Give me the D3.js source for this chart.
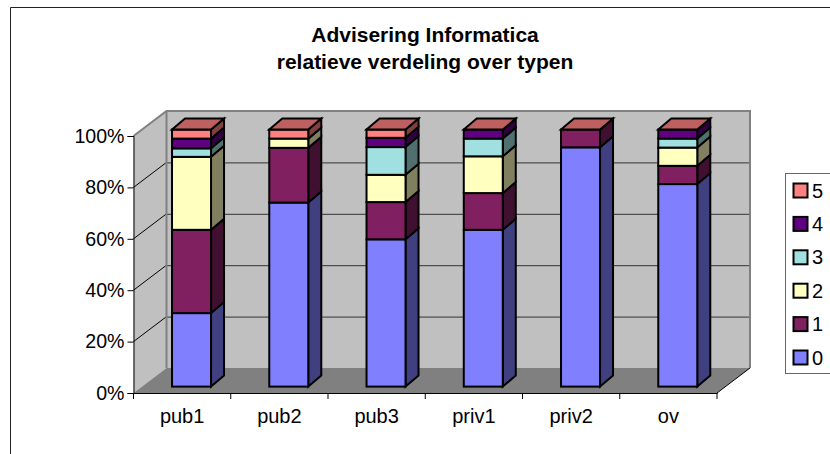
<!DOCTYPE html>
<html><head><meta charset="utf-8">
<style>html,body{margin:0;padding:0;background:#fff}svg{display:block}text{font-family:"Liberation Sans",Arial,sans-serif;fill:#000}</style>
<script src="https://cdn.jsdelivr.net/npm/d3@7"></script></head><body>
<script>
const categories = ["pub1","pub2","pub3","priv1","priv2","ov"];
const seriesNames = ["0","1","2","3","4","5"];
const s0 = [28.6,71.6,57.3,61.0,93.1,78.8];
const s1 = [32.4,21.3,14.5,14.3,6.9,7.1];
const s2 = [28.4,3.6,10.6,14.3,0,7.1];
const s3 = [3.3,0,10.8,6.9,0,3.5];
const s4 = [3.8,0,3.6,3.5,0,3.5];
const s5 = [3.5,3.5,3.2,0,0,0];
const allSeries = [s0,s1,s2,s3,s4,s5];
const colors = ["#8080ff","#802060","#ffffc0","#a0e0e0","#600080","#ff8080"];
const yTicks = [0,20,40,60,80,100];
const titleLines = ["Advisering Informatica","relatieve verdeling over typen"];

const W=830,H=454;
const svg=d3.select("body").append("svg").attr("width",W).attr("height",H);
const FS=20, YFS=19.6, TFS=21;
// frame
svg.append("path").attr("d","M10.5,454V7.5H830").attr("fill","none").attr("stroke","#222").attr("stroke-width",1);

const x0=133.5,x1=717,yB=393,yT=136,backX=33,backY=-25,depX=13,depY=-11;
const x=d3.scaleBand().domain(categories).range([x0,x1]);
const y=d3.scaleLinear().domain([0,100]).range([yB,yT]);

// walls
const g=svg.append("g");
g.append("path").attr("d",`M${x0},${yB}L${x0},${yT}L${x0+backX},${yT+backY}L${x0+backX},${yB+backY}Z`).attr("fill","#c0c0c0");
g.append("rect").attr("x",x0+backX).attr("y",yT+backY).attr("width",x1-x0).attr("height",yB-yT).attr("fill","#c0c0c0");
g.append("path").attr("d",`M${x0},${yB}L${x0+backX},${yB+backY}L${x1+backX},${yB+backY}L${x1},${yB}Z`).attr("fill","#808080");
// gridlines
yTicks.filter(t=>t>0&&t<100).forEach(t=>{
  g.append("line").attr("x1",x0+backX).attr("x2",x1+backX).attr("y1",y(t)+backY+.5).attr("y2",y(t)+backY+.5).attr("stroke","#333").attr("stroke-width",1);
  g.append("line").attr("x1",x0).attr("x2",x0+backX).attr("y1",y(t)).attr("y2",y(t)+backY).attr("stroke","#000").attr("stroke-width",1);
});
// wall edges
g.append("path").attr("d",`M${x0},${yT}L${x0+backX},${yT+backY}H${x1+backX}V${yB+backY}`).attr("fill","none").attr("stroke","#808080").attr("stroke-width",2);
g.append("line").attr("x1",x0+backX).attr("x2",x0+backX).attr("y1",yT+backY).attr("y2",yB+backY).attr("stroke","#808080").attr("stroke-width",2);
g.append("line").attr("x1",x1).attr("y1",yB).attr("x2",x1+backX).attr("y2",yB+backY).attr("stroke","#000").attr("stroke-width",1);

// bars
const stacked=d3.stack().keys(d3.range(6)).value((d,k)=>allSeries[k][d])(d3.range(6));
const barW=39, barShift=9.4, barLift=6.4;
const shade=(c,k)=>{const r=d3.rgb(c);return d3.rgb(r.r*k,r.g*k,r.b*k).formatHex();};
const barsG=svg.append("g").attr("stroke","#000").attr("stroke-width",2).attr("stroke-linejoin","miter");
categories.forEach((c,i)=>{
  const bx=x(c)+(x.bandwidth()-barW)/2+barShift;
  const Y=v=>y(v)-barLift;
  stacked.forEach((ser,k)=>{
    const ya=Y(ser[i][0]),yb=Y(ser[i][1]);
    barsG.append("path").attr("d",`M${bx+barW},${ya}L${bx+barW+depX},${ya+depY}L${bx+barW+depX},${yb+depY}L${bx+barW},${yb}Z`).attr("fill",shade(colors[k],.5));
    barsG.append("rect").attr("x",bx).attr("y",yb).attr("width",barW).attr("height",ya-yb).attr("fill",colors[k]);
    if(k===5){
      barsG.append("path").attr("d",`M${bx},${yb}L${bx+depX},${yb+depY}H${bx+barW+depX}L${bx+barW},${yb}Z`).attr("fill",shade(colors[k],.75));
    }
  });
});

// axes
const yAxis=d3.axisLeft(y).tickValues(yTicks).tickFormat(d=>d+"%").tickSize(6).tickPadding(3);
const ya=svg.append("g").attr("transform",`translate(${x0},0)`).call(yAxis);
const xAxis=d3.axisBottom(x).tickSize(0).tickPadding(16);
const xa=svg.append("g").attr("transform",`translate(0,${yB})`).call(xAxis);
[ya,xa].forEach((a,i)=>{a.selectAll("text").attr("font-size",i?FS:YFS).attr("font-family",'"Liberation Sans",Arial,sans-serif');a.selectAll("path,line").attr("stroke","#000").attr("stroke-width",1);});
xa.selectAll(".tick line").remove();
const xEdges=[...categories.map(c=>x(c)),x1];
xEdges.forEach(v=>svg.append("line").attr("x1",v).attr("x2",v).attr("y1",yB).attr("y2",yB+6).attr("stroke","#000"));

// title
titleLines.forEach((t,i)=>svg.append("text").attr("x",425).attr("y",42+i*27).attr("text-anchor","middle").attr("font-size",TFS).attr("font-weight","bold").text(t));

// legend
const lg=svg.append("g");
lg.append("rect").attr("x",785.5).attr("y",173.5).attr("width",60).attr("height",200).attr("fill","#fff").attr("stroke","#666").attr("stroke-width",1);
seriesNames.slice().reverse().forEach((n,i)=>{
  const ly=183.5+i*33.4, k=5-i;
  lg.append("rect").attr("x",793.5).attr("y",ly).attr("width",14).attr("height",14).attr("fill",colors[k]).attr("stroke","#000").attr("stroke-width",2);
  lg.append("text").attr("x",812).attr("y",ly+14).attr("font-size",FS).text(n);
});
</script></body></html>
